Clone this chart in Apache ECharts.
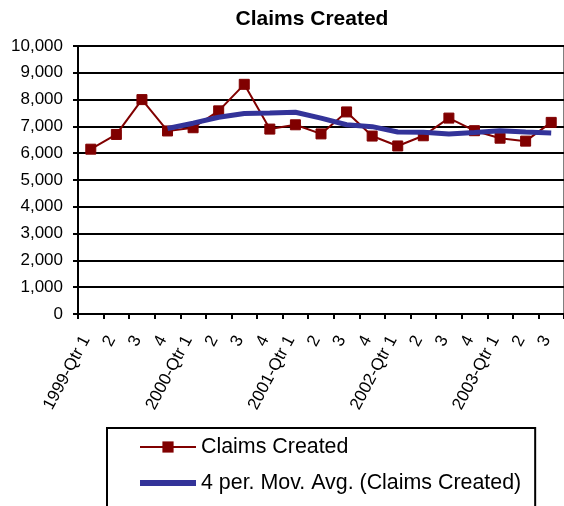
<!DOCTYPE html>
<html>
<head>
<meta charset="utf-8">
<script src="https://cdn.jsdelivr.net/npm/echarts@6/dist/echarts.min.js"></script>
<style>
  html, body { margin: 0; padding: 0; background: #fff; }
  #chart { width: 564px; height: 506px; }
</style>
</head>
<body>
<div id="chart"></div>
<script>
// Quarterly claim counts, 1999 Q1 – 2003 Q3
const quarters = [
  '1999-Qtr 1', '2', '3', '4',
  '2000-Qtr 1', '2', '3', '4',
  '2001-Qtr 1', '2', '3', '4',
  '2002-Qtr 1', '2', '3', '4',
  '2003-Qtr 1', '2', '3'
];

const claimsCreated = [
  6150, 6700, 8000, 6830,
  6950, 7580, 8570, 6900,
  7060, 6720, 7540, 6640,
  6270, 6650, 7310, 6840,
  6560, 6450, 7150
];

// 4-period moving average trend (starts at the 4th quarter)
const movingAvg = [
  null, null, null, 6920,
  7120, 7340, 7480, 7500,
  7530, 7310, 7060, 6990,
  6790, 6780, 6720, 6770,
  6840, 6790, 6750
];

const yTicks = { min: 0, max: 10000, interval: 1000 };

const seriesNames = ['Claims Created', '4 per. Mov. Avg. (Claims Created)'];

const font = '"Liberation Sans", Arial, sans-serif';
const chart = echarts.init(document.getElementById('chart'), null, { renderer: 'canvas' });

// thick bar legend key for the trend line (invisible moves keep the box 56x14)
const trendKey = 'path://M0,0 M0,4 L56,4 L56,10 L0,10 Z M0,14';

chart.setOption({
  animation: false,
  backgroundColor: '#ffffff',
  textStyle: { fontFamily: font, color: '#000' },
  title: {
    text: 'Claims Created',
    left: 307,
    textAlign: 'center',
    top: 4,
    textStyle: { fontFamily: font, fontSize: 21, fontWeight: 'bold', color: '#000' }
  },
  grid: {
    left: 78,
    top: 46,
    width: 490,
    height: 268,
    containLabel: false,
    show: true,
    borderColor: '#808080',
    borderWidth: 2,
    backgroundColor: 'transparent'
  },
  legend: {
    orient: 'vertical',
    left: 107,
    top: 428,
    height: 160,
    itemWidth: 56,
    itemHeight: 14,
    itemGap: 14,
    padding: [8, 14, 40, 32],
    borderColor: '#000',
    borderWidth: 2,
    textStyle: { fontFamily: font, fontSize: 21.4, lineHeight: 22, color: '#000' },
    data: [
      { name: seriesNames[0] },
      { name: seriesNames[1], icon: trendKey }
    ]
  },
  xAxis: {
    type: 'category',
    data: quarters,
    boundaryGap: true,
    axisLine: { lineStyle: { color: '#000', width: 2 } },
    axisTick: { show: true, alignWithLabel: false, length: 5, lineStyle: { color: '#000', width: 2 } },
    axisLabel: {
      interval: 0,
      rotate: 62,
      fontFamily: font,
      fontSize: 17,
      color: '#000',
      margin: 14,
      padding: [0, 10, 0, 0]
    },
    splitLine: { show: false }
  },
  yAxis: {
    type: 'value',
    min: yTicks.min,
    max: yTicks.max,
    interval: yTicks.interval,
    axisLine: { show: true, lineStyle: { color: '#000', width: 2 } },
    axisTick: { show: true, length: 5, lineStyle: { color: '#000', width: 2 } },
    axisLabel: {
      fontFamily: font,
      fontSize: 17,
      color: '#000',
      margin: 15,
      formatter: v => v.toLocaleString('en-US')
    },
    splitLine: { show: true, lineStyle: { color: '#000', width: 2 } }
  },
  series: [
    {
      name: seriesNames[0],
      type: 'line',
      data: claimsCreated,
      symbol: 'rect',
      symbolSize: 10,
      color: '#800000',
      lineStyle: { color: '#800000', width: 2 },
      itemStyle: { color: '#800000', borderColor: '#800000' },
      z: 3
    },
    {
      name: seriesNames[1],
      type: 'line',
      data: movingAvg,
      symbol: 'none',
      showSymbol: false,
      color: '#333399',
      lineStyle: { color: '#333399', width: 5 },
      itemStyle: { color: '#333399' },
      z: 4
    }
  ]
});
</script>
</body>
</html>
